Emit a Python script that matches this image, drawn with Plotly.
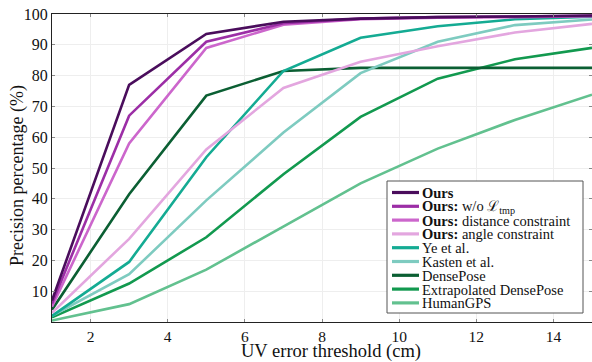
import plotly.graph_objects as go

x_vals = [1, 3, 5, 7, 9, 11, 13, 15]

ours = [7, 77, 93.5, 97.5, 98.5, 99, 99.2, 99.5]
ours_wo_tmp = [6, 67, 91, 97, 98.5, 99, 99.2, 99.4]
ours_distance = [5, 58, 89, 96.5, 98.3, 98.8, 99, 99.3]
ours_angle = [3, 27, 56, 76, 84.5, 89.5, 94, 96.8]
ye = [2, 19.5, 53.5, 81.5, 92.3, 96, 98.3, 99.1]
kasten = [2, 15.5, 39.5, 61.5, 80.8, 91, 96.4, 98.2]
densepose = [4, 41.5, 73.5, 81.5, 82.5, 82.5, 82.5, 82.5]
extrap_densepose = [1.5, 12.5, 27.5, 48, 66.6, 79, 85.3, 89]
humangps = [0.5, 5.8, 17, 31, 45, 56.3, 65.6, 73.8]

series_names = [
    "<b>Ours</b>",
    "<b>Ours:</b> w/o ℒ<sub>tmp</sub>",
    "<b>Ours:</b> distance constraint",
    "<b>Ours:</b> angle constraint",
    "Ye et al.",
    "Kasten et al.",
    "DensePose",
    "Extrapolated DensePose",
    "HumanGPS",
]
series_values = [ours, ours_wo_tmp, ours_distance, ours_angle, ye, kasten,
                 densepose, extrap_densepose, humangps]
series_colors = ["#4a0d5c", "#9c2ea6", "#cc66cc", "#e3a6df", "#14ab93",
                 "#7ecbc0", "#0b5f33", "#12994f", "#62c18f"]

x_ticks = [2, 4, 6, 8, 10, 12, 14]
y_ticks = [10, 20, 30, 40, 50, 60, 70, 80, 90, 100]
x_title = "UV error threshold (cm)"
y_title = "Precision percentage (%)"

FONT = "Liberation Serif"
INK = "#111111"

fig = go.Figure()
# draw lower-priority series first so "Ours" sits on top
for name, vals, col in reversed(list(zip(series_names, series_values, series_colors))):
    fig.add_trace(go.Scatter(x=x_vals, y=vals, mode="lines", name=name,
                             line=dict(color=col, width=2.6), showlegend=False))

W, H = 592, 362
ml, mr, mt, mb = 52, 0, 14, 40
pw, ph = W - ml - mr, H - mt - mb

def px(xp):
    return (xp - ml) / pw

def py(yp):
    return (H - mb - yp) / ph

# manual compact legend
box_l, box_r, box_t, box_b = 387, 583, 181, 313
shapes = [dict(type="rect", xref="paper", yref="paper",
               x0=px(box_l), x1=px(box_r), y0=py(box_b), y1=py(box_t),
               fillcolor="white", line=dict(color="#555555", width=1), layer="above")]
annotations = []
row0, step = 192.5, 13.8
for i, (name, col) in enumerate(zip(series_names, series_colors)):
    yc = row0 + i * step
    shapes.append(dict(type="line", xref="paper", yref="paper",
                       x0=px(392), x1=px(419), y0=py(yc), y1=py(yc),
                       line=dict(color=col, width=3.2), layer="above"))
    annotations.append(dict(xref="paper", yref="paper", x=px(420), y=py(yc + 0.5),
                            text=name, showarrow=False, xanchor="left", yanchor="middle",
                            font=dict(family=FONT, size=14.5, color=INK)))

# axis titles placed as annotations for exact positioning
annotations.append(dict(xref="paper", yref="paper", x=px(331), y=py(351),
                        text=x_title, showarrow=False, xanchor="center", yanchor="middle",
                        font=dict(family=FONT, size=18.5, color=INK)))
annotations.append(dict(xref="paper", yref="paper", x=px(17), y=py(176),
                        text=y_title, showarrow=False, xanchor="center", yanchor="middle",
                        textangle=-90, font=dict(family=FONT, size=18, color=INK)))

fig.update_layout(
    width=W, height=H,
    margin=dict(l=ml, r=mr, t=mt, b=mb, pad=0),
    paper_bgcolor="white", plot_bgcolor="white",
    font=dict(family=FONT, color=INK),
    shapes=shapes, annotations=annotations,
    showlegend=False,
)
fig.update_xaxes(
    range=[1, 15], tickvals=x_ticks, ticks="inside", ticklen=3, tickcolor="#888",
    showline=True, linecolor="#222222", linewidth=1, mirror="ticks",
    showgrid=True, gridcolor="#eeeeee", gridwidth=1, zeroline=False,
    tickfont=dict(family=FONT, size=15.5, color=INK),
)
fig.update_yaxes(
    range=[0, 100], tickvals=y_ticks, ticks="inside", ticklen=3, tickcolor="#888",
    showline=True, linecolor="#222222", linewidth=1, mirror="ticks",
    showgrid=True, gridcolor="#eeeeee", gridwidth=1, zeroline=False,
    tickfont=dict(family=FONT, size=16, color=INK),
)

fig.write_html("out.html", config=dict(displayModeBar=False))
